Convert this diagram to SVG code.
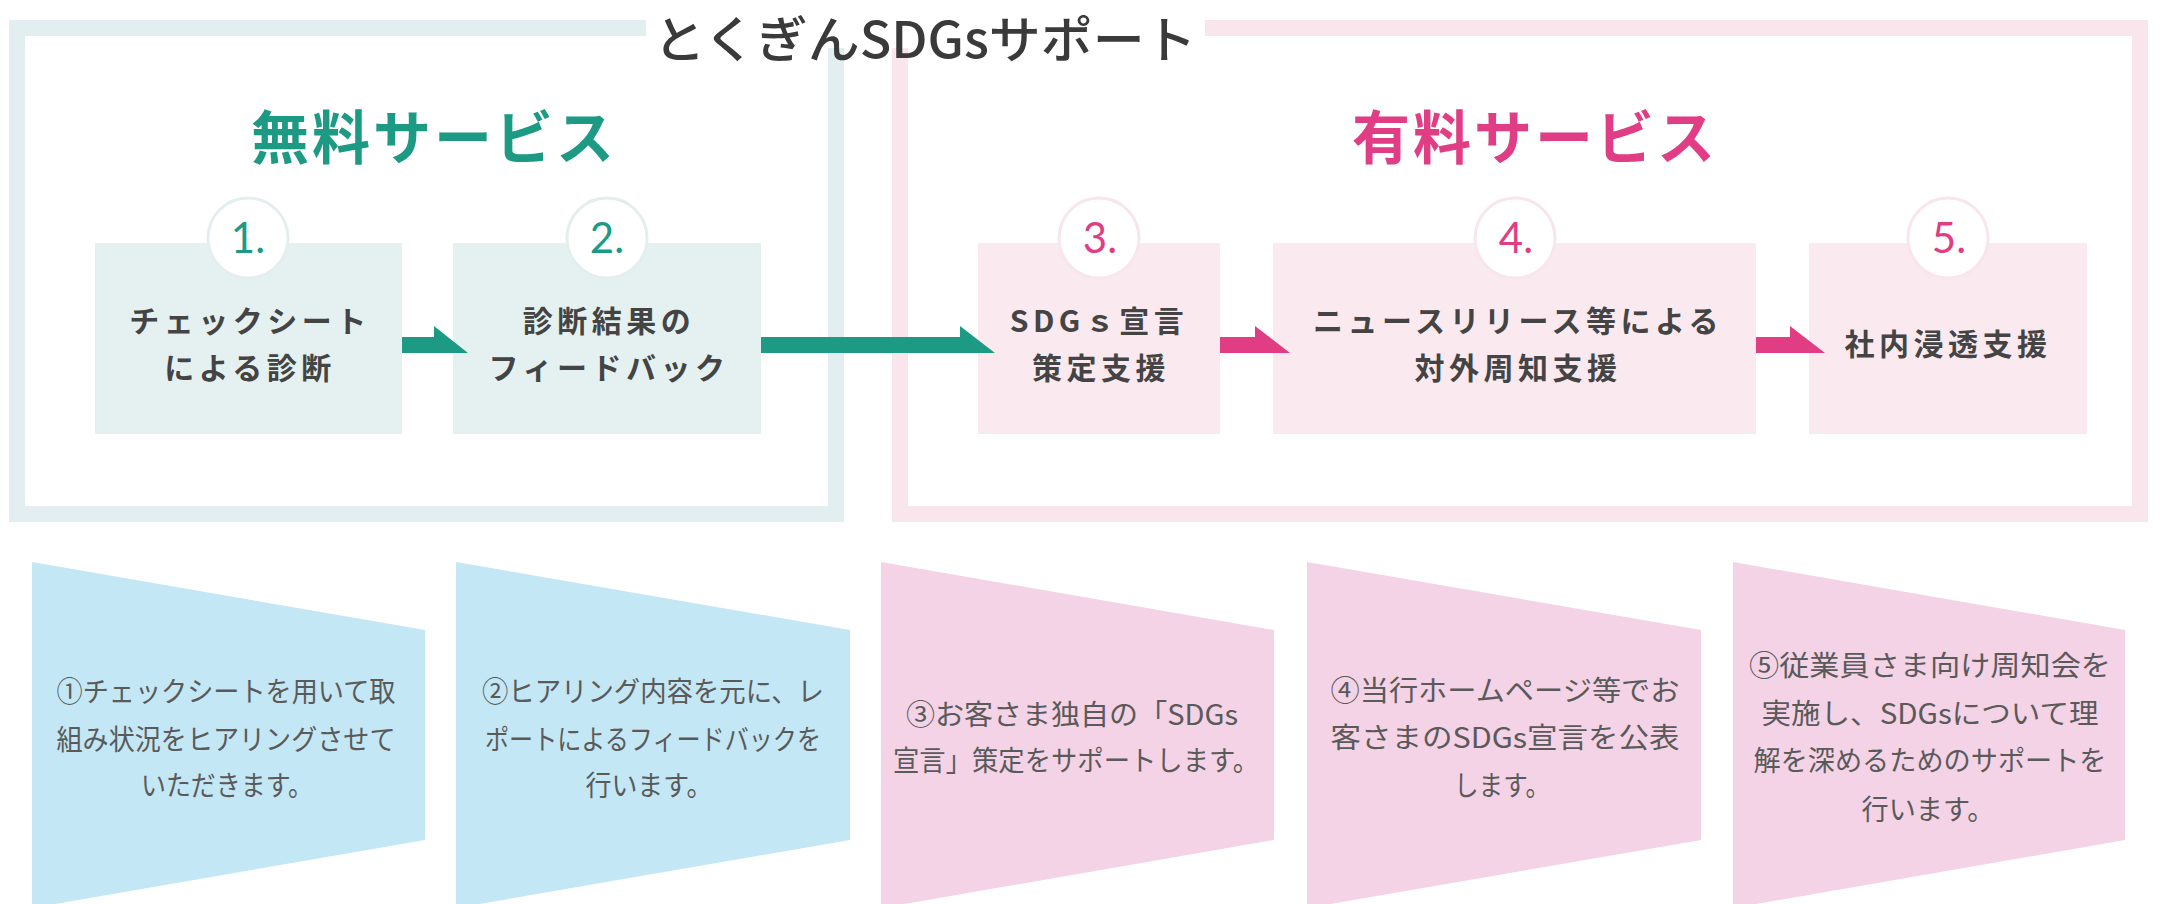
<svg xmlns="http://www.w3.org/2000/svg" width="2163" height="904" viewBox="0 0 2163 904">
<style>
.jp{font-family:"Noto Sans CJK JP","Noto Sans",sans-serif}
.title{font-size:50px;font-weight:500;fill:#3a3a3a}
.head{font-size:58px;font-weight:700;letter-spacing:3px}
.teal{fill:#1d9a84}
.pink{fill:#e03d84}
.box-t{fill:#e4f1f0}
.box-p{fill:#fbe9f0}
.ring-t{fill:#ffffff;stroke:#e4eeee;stroke-width:3}
.ring-p{fill:#ffffff;stroke:#f8e5ed;stroke-width:3}
.num{font-family:Lato,"Open Sans",sans-serif;font-size:42px;font-weight:400}
.lbl{font-size:30px;font-weight:700;fill:#444444;letter-spacing:4.5px}
.desc{font-size:28px;font-weight:400;fill:#5a5a5a}
.sh-b{fill:#c3e7f5}
.sh-p{fill:#f3d3e5}
</style>
<rect width="2163" height="904" fill="#ffffff"/>
<g id="frame-free">
<rect x="17" y="28" width="819" height="486" fill="none" stroke="#e2eef0" stroke-width="16"/>
</g>
<g id="frame-paid">
<rect x="900" y="28" width="1240" height="486" fill="none" stroke="#f9e5ec" stroke-width="16"/>
</g>
<g id="title">
<rect x="646" y="8" width="559" height="40" fill="#ffffff"/>
<text class="jp title" x="925" y="58" text-anchor="middle" textLength="543" lengthAdjust="spacingAndGlyphs">とくぎんSDGsサポート</text>
</g>
<g id="head-free"><text class="jp head teal" x="434" y="159" text-anchor="middle">無料サービス</text></g>
<g id="head-paid"><text class="jp head pink" x="1535" y="159" text-anchor="middle">有料サービス</text></g>

<g id="step1">
<rect class="box-t" x="95" y="243" width="307" height="191"/>
<circle class="ring-t" cx="248" cy="238" r="40"/>
<text class="num teal" x="248" y="253" text-anchor="middle">1.</text>
<text class="jp lbl" x="250" y="332" text-anchor="middle">チェックシート</text>
<text class="jp lbl" x="250" y="379" text-anchor="middle">による診断</text>
</g>
<g id="step2">
<rect class="box-t" x="453" y="243" width="308" height="191"/>
<circle class="ring-t" cx="607" cy="238" r="40"/>
<text class="num teal" x="607" y="253" text-anchor="middle">2.</text>
<text class="jp lbl" x="609" y="332" text-anchor="middle">診断結果の</text>
<text class="jp lbl" x="609" y="379" text-anchor="middle">フィードバック</text>
</g>
<g id="step3">
<rect class="box-p" x="978" y="243" width="242" height="191"/>
<circle class="ring-p" cx="1099" cy="238" r="40"/>
<text class="num pink" x="1100" y="253" text-anchor="middle">3.</text>
<text class="jp lbl" x="1099" y="332" text-anchor="middle">SDGｓ宣言</text>
<text class="jp lbl" x="1101" y="379" text-anchor="middle">策定支援</text>
</g>
<g id="step4">
<rect class="box-p" x="1273" y="243" width="483" height="191"/>
<circle class="ring-p" cx="1515" cy="238" r="40"/>
<text class="num pink" x="1516" y="253" text-anchor="middle">4.</text>
<text class="jp lbl" x="1518" y="332" text-anchor="middle">ニュースリリース等による</text>
<text class="jp lbl" x="1518" y="379" text-anchor="middle">対外周知支援</text>
</g>
<g id="step5">
<rect class="box-p" x="1809" y="243" width="278" height="191"/>
<circle class="ring-p" cx="1948" cy="238" r="40"/>
<text class="num pink" x="1949" y="253" text-anchor="middle">5.</text>
<text class="jp lbl" x="1948" y="355" text-anchor="middle">社内浸透支援</text>
</g>

<g id="connectors">
<path class="teal" d="M402,337 H434 V326 L468,353 H402 Z"/>
<path class="teal" d="M761,337 H960 V326 L995,353 H761 Z"/>
<path class="pink" d="M1220,337 H1255 V326 L1290,353 H1220 Z"/>
<path class="pink" d="M1756,337 H1790 V326 L1825,353 H1756 Z"/>
</g>

<g id="desc1">
<polygon class="sh-b" points="32,562 425,630 425,840 32,908"/>
<text class="jp desc" x="226" y="702" text-anchor="middle" textLength="339" lengthAdjust="spacingAndGlyphs">①チェックシートを用いて取</text>
<text class="jp desc" x="226" y="750" text-anchor="middle" textLength="339" lengthAdjust="spacingAndGlyphs">組み状況をヒアリングさせて</text>
<text class="jp desc" x="227" y="796" text-anchor="middle" textLength="172" lengthAdjust="spacingAndGlyphs">いただきます。</text>
</g>
<g id="desc2">
<polygon class="sh-b" points="456,562 850,630 850,840 456,908"/>
<text class="jp desc" x="653" y="702" text-anchor="middle" textLength="342" lengthAdjust="spacingAndGlyphs">②ヒアリング内容を元に、レ</text>
<text class="jp desc" x="653" y="750" text-anchor="middle" textLength="336" lengthAdjust="spacingAndGlyphs">ポートによるフィードバックを</text>
<text class="jp desc" x="649" y="796" text-anchor="middle" textLength="127" lengthAdjust="spacingAndGlyphs">行います。</text>
</g>
<g id="desc3">
<polygon class="sh-p" points="881,562 1274,630 1274,840 881,908"/>
<text class="jp desc" x="1072" y="725" text-anchor="middle" textLength="332" lengthAdjust="spacingAndGlyphs">③お客さま独自の「SDGs</text>
<text class="jp desc" x="1076" y="771" text-anchor="middle" textLength="366" lengthAdjust="spacingAndGlyphs">宣言」策定をサポートします。</text>
</g>
<g id="desc4">
<polygon class="sh-p" points="1307,562 1701,630 1701,840 1307,908"/>
<text class="jp desc" x="1505" y="701" text-anchor="middle" textLength="349" lengthAdjust="spacingAndGlyphs">④当行ホームページ等でお</text>
<text class="jp desc" x="1505" y="748" text-anchor="middle" textLength="349" lengthAdjust="spacingAndGlyphs">客さまのSDGs宣言を公表</text>
<text class="jp desc" x="1502" y="796" text-anchor="middle" textLength="96" lengthAdjust="spacingAndGlyphs">します。</text>
</g>
<g id="desc5">
<polygon class="sh-p" points="1733,562 2125,630 2125,840 1733,908"/>
<text class="jp desc" x="1930" y="676" text-anchor="middle" textLength="362" lengthAdjust="spacingAndGlyphs">⑤従業員さま向け周知会を</text>
<text class="jp desc" x="1930" y="724" text-anchor="middle" textLength="337" lengthAdjust="spacingAndGlyphs">実施し、SDGsについて理</text>
<text class="jp desc" x="1930" y="771" text-anchor="middle" textLength="353" lengthAdjust="spacingAndGlyphs">解を深めるためのサポートを</text>
<text class="jp desc" x="1928" y="820" text-anchor="middle" textLength="133" lengthAdjust="spacingAndGlyphs">行います。</text>
</g>
</svg>
